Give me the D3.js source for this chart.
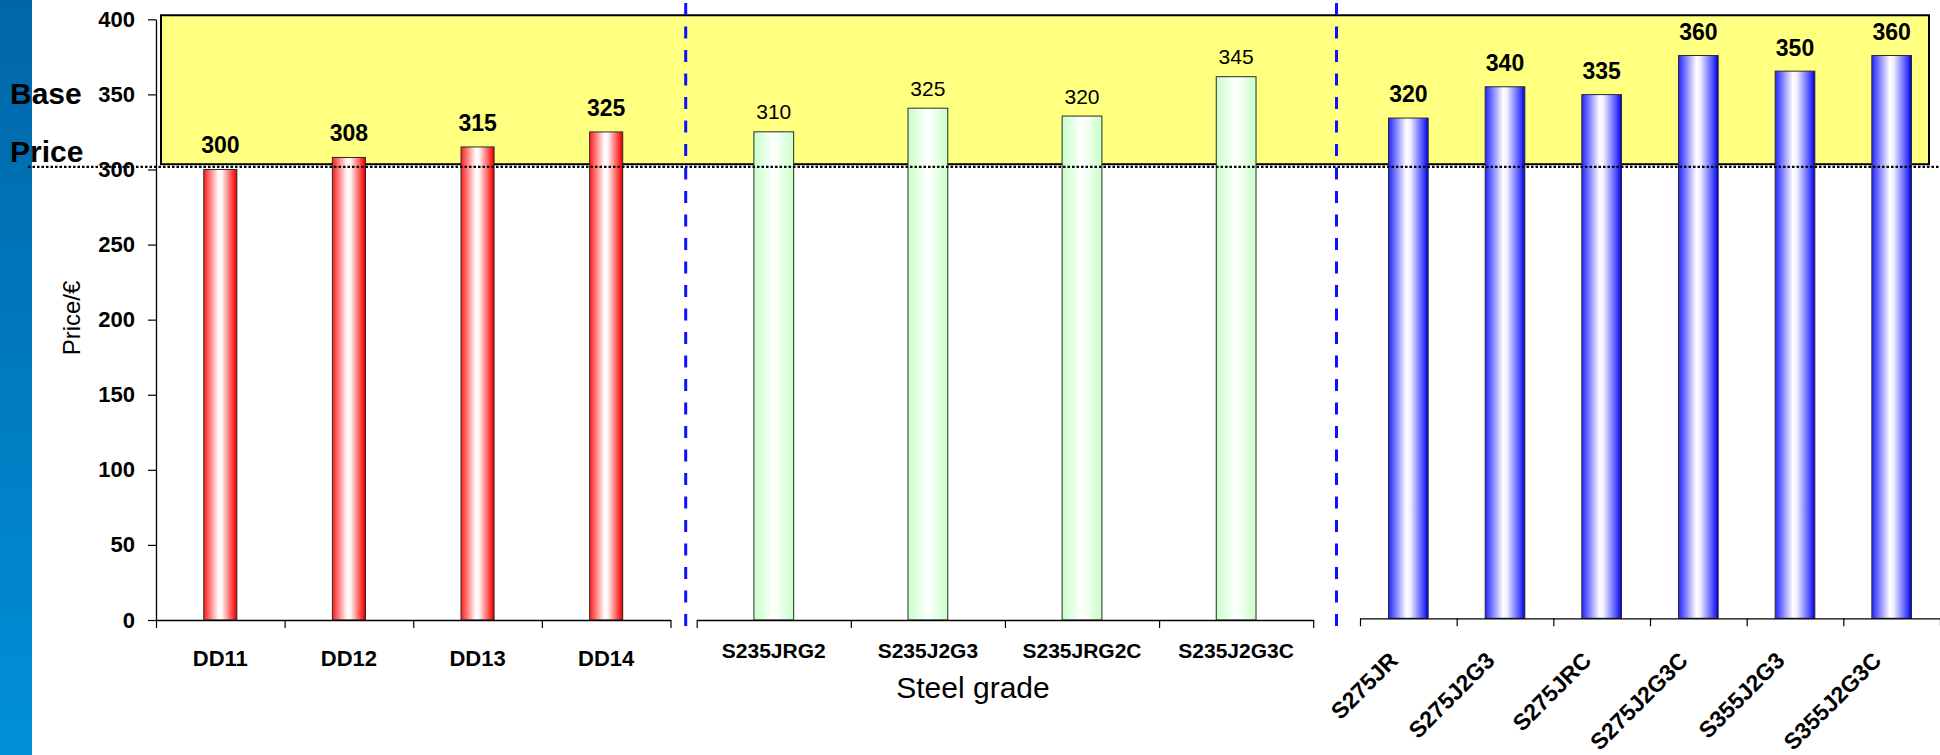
<!DOCTYPE html>
<html>
<head>
<meta charset="utf-8">
<script src="https://cdn.jsdelivr.net/npm/d3@7/dist/d3.min.js"></script>
<style>
  html, body { margin: 0; padding: 0; background: #ffffff; }
  svg { display: block; }
  text { font-family: "Liberation Sans", Arial, sans-serif; fill: #000; }
</style>
</head>
<body>
<svg id="chart" width="1940" height="755"></svg>
<script>
// Flat products
const flatGrades = ["DD11", "DD12", "DD13", "DD14"];
const flatPrices = [300, 308, 315, 325];
// Structural steels
const structGrades = ["S235JRG2", "S235J2G3", "S235JRG2C", "S235J2G3C"];
const structPrices = [310, 325, 320, 345];
// Higher strength grades
const highGrades = ["S275JR", "S275J2G3", "S275JRC", "S275J2G3C", "S355J2G3", "S355J2G3C"];
const highPrices = [320, 340, 335, 360, 350, 360];
// Price axis ticks
const priceTicks = [0, 50, 100, 150, 200, 250, 300, 350, 400];
// Base price band (price units on the main axis)
const baseBand = [303.5, 402.7];
const baseLine = 301.7;

const svg = d3.select("#chart");
const defs = svg.append("defs");

// side strip gradient
const strip = defs.append("linearGradient").attr("id", "strip")
  .attr("x1", 0).attr("y1", 0).attr("x2", 0).attr("y2", 1);
strip.append("stop").attr("offset", 0).attr("stop-color", "#0066a8");
strip.append("stop").attr("offset", 1).attr("stop-color", "#0090d8");

function barGradient(id, stops) {
  const g = defs.append("linearGradient").attr("id", id)
    .attr("x1", 0).attr("y1", 0).attr("x2", 1).attr("y2", 0);
  stops.forEach(([o, c]) => g.append("stop").attr("offset", o).attr("stop-color", c));
}
barGradient("gRed", [[0, "#ff1c1c"], [0.45, "#ffffff"], [0.55, "#fff4f4"], [0.9, "#ff2a2a"], [1, "#d80000"]]);
barGradient("gGreen", [[0, "#c8ffc8"], [0.5, "#ffffff"], [1, "#c8ffc8"]]);
barGradient("gBlue", [[0, "#2424ff"], [0.45, "#ffffff"], [0.55, "#f0f0ff"], [0.9, "#3a3aff"], [1, "#0000c8"]]);

svg.append("rect").attr("x", 0).attr("y", 0).attr("width", 32).attr("height", 755)
  .attr("fill", "url(#strip)");

// y scales: each panel has its own value scale
const yFlat = d3.scaleLinear().domain([0, 400]).range([620, 19.3]);
const yStruct = d3.scaleLinear().domain([0, 381]).range([620, 20]);
const yHigh = d3.scaleLinear().domain([0, 384]).range([618.3, 18]);

// base price band
svg.append("rect")
  .attr("x", 161).attr("width", 1929 - 161)
  .attr("y", yFlat(baseBand[1]))
  .attr("height", yFlat(baseBand[0]) - yFlat(baseBand[1]))
  .attr("fill", "#ffff80").attr("stroke", "#000").attr("stroke-width", 2);

const panels = [
  { grades: flatGrades, prices: flatPrices, x0: 156, x1: 670.5, y: yFlat, barFrac: 0.257,
    grad: "gRed", labelWeight: "bold", labelSize: 23, labelGap: 16,
    catSize: 22, catY: 666, rotate: false },
  { grades: structGrades, prices: structPrices, x0: 696.7, x1: 1313.2, y: yStruct, barFrac: 0.258,
    grad: "gGreen", labelWeight: "normal", labelSize: 21, labelGap: 12.4,
    catSize: 21, catY: 658.3, rotate: false },
  { grades: highGrades, prices: highPrices, x0: 1360, x1: 1940, y: yHigh, barFrac: 0.41,
    grad: "gBlue", labelWeight: "bold", labelSize: 23, labelGap: 15.6,
    catSize: 23, catY: 662, rotate: true }
];

const barLayer = svg.append("g");
const axisLayer = svg.append("g");
const labelLayer = svg.append("g");

panels.forEach(p => {
  const n = p.grades.length;
  const x = d3.scaleBand().domain(p.grades).range([p.x0, p.x1]).padding(0);
  const edge = d3.scaleLinear().domain([0, n]).range([p.x0, p.x1]);
  const base = p.y(0);
  const bw = x.bandwidth() * p.barFrac;
  const data = p.grades.map((g, i) => ({ g, v: p.prices[i] }));

  barLayer.selectAll(null).data(data).enter().append("rect")
    .attr("x", d => x(d.g) + (x.bandwidth() - bw) / 2)
    .attr("width", bw)
    .attr("y", d => p.y(d.v))
    .attr("height", d => base - p.y(d.v))
    .attr("fill", `url(#${p.grad})`)
    .attr("stroke", "#2a2a2a").attr("stroke-width", 1);

  // category axis with ticks between categories
  const ax = axisLayer.append("g").attr("transform", `translate(0,${base})`)
    .call(d3.axisBottom(edge).tickValues(d3.range(n + 1)).tickFormat("").tickSize(8).tickSizeOuter(0));
  ax.select(".domain").attr("stroke", "#000").attr("stroke-width", 1.3);
  ax.selectAll(".tick line").attr("stroke", "#000").attr("stroke-width", 1.2);

  // value labels
  labelLayer.selectAll(null).data(data).enter().append("text")
    .attr("x", d => x(d.g) + x.bandwidth() / 2)
    .attr("y", d => p.y(d.v) - p.labelGap)
    .attr("text-anchor", "middle")
    .attr("font-size", p.labelSize).attr("font-weight", p.labelWeight)
    .text(d => d.v);

  // category labels
  if (p.rotate) {
    labelLayer.selectAll(null).data(data).enter().append("text")
      .attr("transform", d => `translate(${x(d.g) + x.bandwidth() / 2 - 9},${p.catY}) rotate(-45)`)
      .attr("text-anchor", "end")
      .attr("font-size", p.catSize).attr("font-weight", "bold")
      .text(d => d.g);
  } else {
    labelLayer.selectAll(null).data(data).enter().append("text")
      .attr("x", d => x(d.g) + x.bandwidth() / 2)
      .attr("y", p.catY)
      .attr("text-anchor", "middle")
      .attr("font-size", p.catSize).attr("font-weight", "bold")
      .text(d => d.g);
  }
});

// price axis
const yAx = axisLayer.append("g").attr("transform", "translate(156,0)")
  .call(d3.axisLeft(yFlat).tickValues(priceTicks).tickSize(8).tickSizeOuter(0).tickPadding(13));
yAx.select(".domain").attr("stroke", "#000").attr("stroke-width", 1.3);
yAx.selectAll(".tick line").attr("stroke", "#000").attr("stroke-width", 1.2);
yAx.selectAll(".tick text")
  .attr("font-family", "'Liberation Sans', Arial, sans-serif")
  .attr("font-size", 22).attr("font-weight", "bold").attr("fill", "#000");

// base price dotted line
labelLayer.append("line")
  .attr("x1", 28).attr("x2", 1940)
  .attr("y1", yFlat(baseLine)).attr("y2", yFlat(baseLine))
  .attr("stroke", "#000").attr("stroke-width", 2.2).attr("stroke-dasharray", "2.5,2");

// group separators
[685.7, 1336.5].forEach(xv => {
  labelLayer.append("line")
    .attr("x1", xv).attr("x2", xv).attr("y1", 3).attr("y2", 627)
    .attr("stroke", "#1010ff").attr("stroke-width", 3).attr("stroke-dasharray", "12,11.5");
});

// titles
labelLayer.append("text").attr("x", 10).attr("y", 103.5)
  .attr("font-size", 30).attr("font-weight", "bold").text("Base");
labelLayer.append("text").attr("x", 10).attr("y", 162)
  .attr("font-size", 30).attr("font-weight", "bold").text("Price");

labelLayer.append("text")
  .attr("transform", "translate(79.5,318) rotate(-90)")
  .attr("text-anchor", "middle").attr("font-size", 24)
  .text("Price/€");

labelLayer.append("text")
  .attr("x", 973).attr("y", 698.3)
  .attr("text-anchor", "middle").attr("font-size", 30)
  .text("Steel grade");
</script>
</body>
</html>
